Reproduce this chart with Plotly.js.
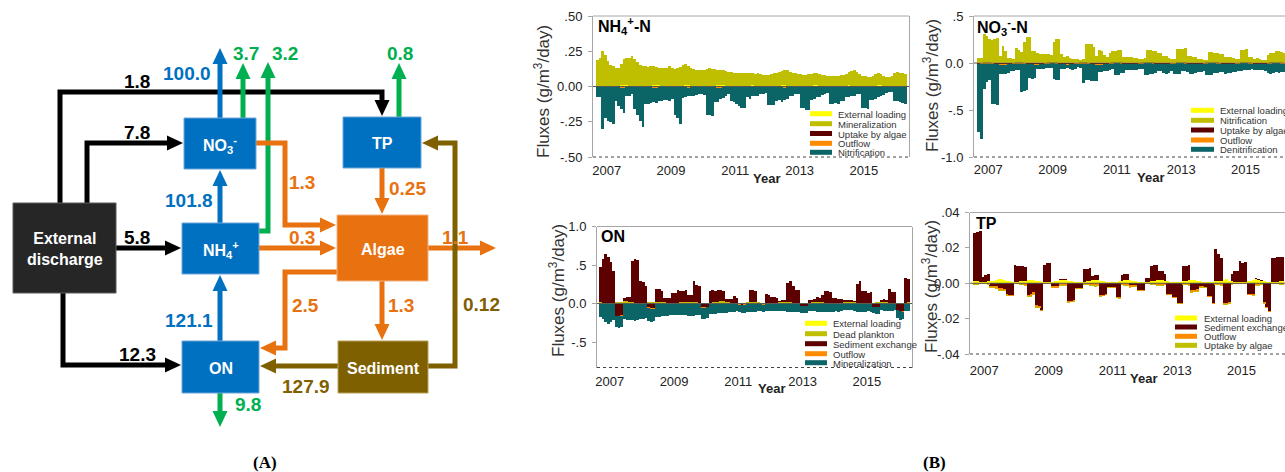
<!DOCTYPE html>
<html>
<head>
<meta charset="utf-8">
<script src="https://cdn.plot.ly/plotly-3.0.1.min.js"></script>
<style>
  html, body { margin: 0; padding: 0; background: #fff; }
  #chart { width: 1285px; height: 472px; }
</style>
</head>
<body>
<div id="chart"></div>
<script>
// ---------------- (A) pool-to-pool fluxes ----------------
const poolNames = ['External<br>discharge', 'NO<sub>3</sub><sup>-</sup>', 'NH<sub>4</sub><sup>+</sup>', 'ON', 'TP', 'Algae', 'Sediment'];
const fluxValues = [1.8, 7.8, 5.8, 12.3, 100.0, 101.8, 121.1, 3.7, 3.2, 0.8, 9.8, 1.3, 0.3, 0.25, 1.1, 2.5, 1.3, 127.9, 0.12];
const fluxDigits = [1, 1, 1, 1, 1, 1, 1, 1, 1, 1, 1, 1, 1, 2, 1, 1, 1, 1, 2];

// ---------------- (B) monthly fluxes, g/m3/day (Sep 2006 onward) ----------------
const yearTicks = ['2007', '2009', '2011', '2013', '2015'];

// NH4+-N
const nh4Loading = [
  .006,.004,.003,.003,.003,.004,.004,.005,.006,.008,.009,.008,
  .006,.004,.003,.003,.003,.003,.004,.005,.007,.009,.010,.008,
  .005,.004,.003,.002,.003,.003,.004,.005,.006,.008,.008,.007,
  .005,.004,.003,.003,.003,.004,.004,.005,.006,.009,.010,.008,
  .006,.004,.003,.003,.003,.003,.004,.004,.006,.007,.008,.007,
  .005,.004,.003,.002,.002,.003,.003,.004,.006,.008,.009,.007,
  .005,.004,.003,.003,.003,.003,.004,.005,.006,.008,.008,.007,
  .005,.003,.003,.002,.003,.003,.004,.004,.005,.007,.009,.007,
  .005,.004,.003,.003,.003,.003,.004,.005,.006,.008,.008,.006,
  .005,.004,.003,.003,.003,.003,.004,.005];
const nh4Mineralization = [
  .18,.20,.25,.22,.18,.15,.14,.125,.125,.155,
  .185,.195,.195,.21,.195,.17,.15,.14,.14,.135,
  .135,.135,.125,.125,.125,.125,.13,.14,.13,.12,
  .13,.135,.15,.15,.135,.125,.12,.115,.115,.115,
  .115,.12,.125,.12,.115,.11,.11,.11,.105,.10,
  .10,.095,.095,.095,.095,.09,.09,.09,.09,.085,
  .09,.085,.08,.08,.08,.085,.09,.095,.10,.105,
  .11,.11,.10,.095,.09,.085,.085,.08,.08,.085,
  .085,.09,.09,.085,.08,.08,.075,.075,.07,.07,
  .07,.075,.08,.085,.095,.105,.11,.10,.085,.075,
  .07,.065,.065,.07,.08,.09,.08,.07,.06,.065,
  .075,.09,.10,.095,.09,.085];
const nh4Uptake = [
  -.002,-.002,-.001,-.001,-.001,-.002,-.002,-.003,-.004,-.005,-.005,-.003,
  -.002,-.002,-.001,-.001,-.001,-.002,-.003,-.003,-.004,-.005,-.004,-.003,
  -.002,-.001,-.001,-.001,-.001,-.002,-.002,-.003,-.004,-.004,-.004,-.003,
  -.002,-.002,-.001,-.001,-.001,-.002,-.002,-.003,-.004,-.005,-.005,-.003,
  -.002,-.001,-.001,-.001,-.001,-.001,-.002,-.003,-.003,-.004,-.004,-.003,
  -.002,-.001,-.001,-.001,-.001,-.002,-.002,-.003,-.004,-.004,-.004,-.002,
  -.002,-.002,-.001,-.001,-.001,-.001,-.002,-.003,-.003,-.004,-.004,-.003,
  -.002,-.001,-.001,-.001,-.001,-.002,-.002,-.002,-.003,-.004,-.004,-.003,
  -.002,-.001,-.001,-.001,-.001,-.001,-.002,-.003,-.003,-.004,-.004,-.002,
  -.002,-.001,-.001,-.001,-.001,-.002,-.002,-.003];
const nh4Outflow = [
  -.003,-.002,-.002,-.002,-.002,-.002,-.002,-.003,-.003,-.004,-.004,-.003,
  -.003,-.002,-.002,-.001,-.002,-.002,-.002,-.003,-.003,-.004,-.004,-.003,
  -.002,-.002,-.002,-.001,-.001,-.002,-.002,-.002,-.003,-.003,-.004,-.003,
  -.002,-.002,-.002,-.002,-.002,-.002,-.002,-.003,-.003,-.004,-.004,-.003,
  -.002,-.002,-.001,-.001,-.001,-.002,-.002,-.002,-.003,-.003,-.003,-.002,
  -.002,-.002,-.001,-.001,-.001,-.001,-.002,-.002,-.003,-.003,-.004,-.002,
  -.002,-.002,-.001,-.001,-.001,-.002,-.002,-.002,-.003,-.003,-.003,-.002,
  -.002,-.001,-.001,-.001,-.001,-.001,-.002,-.002,-.002,-.003,-.003,-.002,
  -.002,-.002,-.001,-.001,-.001,-.001,-.002,-.002,-.003,-.003,-.003,-.002,
  -.002,-.001,-.001,-.001,-.001,-.001,-.002,-.002];
const nh4Nitrification = [
  -.07,-.07,-.30,-.22,-.24,-.25,-.265,-.10,-.13,-.15,
  -.18,-.06,-.06,-.05,-.16,-.20,-.24,-.28,-.12,-.12,
  -.11,-.10,-.11,-.10,-.10,-.09,-.09,-.10,-.09,-.20,
  -.22,-.26,-.075,-.07,-.06,-.06,-.06,-.055,-.05,-.05,
  -.06,-.195,-.20,-.205,-.10,-.10,-.08,-.075,-.06,-.05,
  -.10,-.11,-.12,-.135,-.15,-.15,-.07,-.08,-.06,-.06,
  -.06,-.05,-.05,-.045,-.13,-.13,-.13,-.10,-.09,-.10,
  -.09,-.085,-.06,-.065,-.05,-.05,-.15,-.15,-.16,-.16,
  -.09,-.08,-.07,-.07,-.055,-.05,-.045,-.12,-.12,-.115,
  -.12,-.10,-.10,-.07,-.065,-.065,-.06,-.05,-.05,-.15,
  -.15,-.155,-.09,-.09,-.085,-.07,-.06,-.055,-.04,-.04,
  -.035,-.10,-.10,-.11,-.115,-.12];

// NO3--N
const no3Loading = [
  .008,.006,.005,.005,.005,.006,.007,.008,.010,.012,.012,.010,
  .008,.006,.005,.004,.005,.006,.007,.008,.010,.011,.012,.009,
  .007,.006,.005,.004,.004,.005,.006,.008,.009,.011,.011,.009,
  .007,.006,.005,.005,.005,.006,.007,.008,.010,.012,.013,.010,
  .008,.006,.005,.004,.004,.005,.006,.007,.009,.010,.011,.009,
  .007,.005,.004,.004,.004,.005,.006,.007,.008,.010,.010,.008,
  .007,.006,.005,.004,.004,.005,.006,.007,.009,.010,.011,.009,
  .007,.005,.004,.004,.004,.005,.006,.007,.008,.009,.010,.008,
  .007,.006,.005,.004,.004,.005,.006,.007,.008,.010,.010,.008,
  .007,.005,.004,.004,.004,.005,.006,.007];
const no3Nitrification = [
  .05,.05,.30,.28,.25,.24,.25,.26,.06,.17,
  .12,.04,.04,.04,.15,.13,.11,.22,.27,.27,
  .12,.12,.09,.09,.09,.085,.09,.085,.22,.25,
  .25,.09,.06,.06,.04,.035,.035,.035,.03,.04,
  .20,.20,.19,.16,.06,.13,.12,.08,.06,.10,
  .12,.12,.13,.13,.06,.06,.05,.05,.045,.04,
  .04,.04,.05,.13,.13,.12,.12,.10,.10,.06,
  .06,.04,.04,.04,.14,.14,.15,.15,.07,.07,
  .05,.05,.03,.03,.03,.03,.11,.11,.10,.10,
  .09,.09,.06,.06,.05,.04,.04,.04,.13,.13,
  .14,.06,.06,.04,.04,.03,.02,.02,.08,.10,
  .10,.12,.12,.11,.10,.09];
const no3Uptake = [
  -.006,-.005,-.003,-.003,-.003,-.005,-.007,-.009,-.011,-.012,-.011,-.008,
  -.006,-.004,-.003,-.003,-.003,-.005,-.007,-.009,-.010,-.012,-.010,-.008,
  -.006,-.004,-.003,-.002,-.003,-.004,-.006,-.008,-.010,-.011,-.010,-.007,
  -.005,-.004,-.003,-.003,-.003,-.005,-.007,-.009,-.011,-.012,-.011,-.008,
  -.006,-.004,-.003,-.002,-.003,-.004,-.006,-.008,-.009,-.010,-.009,-.007,
  -.005,-.004,-.003,-.002,-.002,-.004,-.006,-.007,-.009,-.010,-.009,-.007,
  -.005,-.004,-.003,-.002,-.003,-.004,-.006,-.008,-.009,-.010,-.009,-.007,
  -.005,-.004,-.003,-.002,-.002,-.004,-.005,-.007,-.008,-.009,-.009,-.006,
  -.005,-.004,-.003,-.002,-.002,-.004,-.005,-.007,-.008,-.010,-.009,-.006,
  -.005,-.004,-.003,-.002,-.002,-.004,-.005,-.007];
const no3Outflow = [
  -.004,-.004,-.003,-.003,-.003,-.003,-.004,-.004,-.005,-.006,-.006,-.005,
  -.004,-.003,-.003,-.003,-.003,-.003,-.004,-.004,-.005,-.006,-.006,-.005,
  -.004,-.003,-.003,-.002,-.002,-.003,-.003,-.004,-.005,-.005,-.005,-.004,
  -.004,-.003,-.003,-.003,-.003,-.003,-.004,-.004,-.005,-.006,-.006,-.005,
  -.004,-.003,-.003,-.002,-.002,-.003,-.003,-.004,-.004,-.005,-.005,-.004,
  -.003,-.003,-.002,-.002,-.002,-.003,-.003,-.004,-.004,-.005,-.005,-.004,
  -.003,-.003,-.002,-.002,-.002,-.003,-.003,-.004,-.004,-.005,-.005,-.004,
  -.003,-.003,-.002,-.002,-.002,-.003,-.003,-.003,-.004,-.005,-.005,-.004,
  -.003,-.003,-.002,-.002,-.002,-.003,-.003,-.004,-.004,-.005,-.005,-.004,
  -.003,-.003,-.002,-.002,-.002,-.003,-.003,-.003];
const no3Denitrification = [
  -.72,-.80,-.27,-.20,-.17,-.43,-.43,-.43,-.10,-.10,
  -.10,-.09,-.08,-.08,-.07,-.07,-.30,-.29,-.28,-.15,
  -.15,-.14,-.05,-.05,-.05,-.05,-.05,-.05,-.17,-.17,
  -.17,-.05,-.05,-.04,-.05,-.06,-.05,-.04,-.05,-.21,
  -.18,-.17,-.18,-.18,-.18,-.08,-.08,-.07,-.07,-.07,
  -.06,-.12,-.12,-.10,-.10,-.06,-.06,-.06,-.06,-.06,
  -.06,-.06,-.12,-.12,-.11,-.11,-.10,-.07,-.07,-.09,
  -.10,-.10,-.08,-.11,-.11,-.11,-.08,-.08,-.09,-.10,
  -.10,-.09,-.08,-.08,-.08,-.12,-.12,-.12,-.10,-.10,
  -.09,-.09,-.10,-.09,-.09,-.09,-.09,-.08,-.08,-.07,
  -.07,-.07,-.06,-.06,-.06,-.06,-.06,-.07,-.10,-.11,
  -.10,-.09,-.10,-.09,-.09,-.09];

// ON
const onLoading = [
  .006,.005,.004,.004,.004,.005,.006,.007,.008,.010,.010,.008,
  .006,.005,.004,.003,.004,.005,.006,.007,.008,.009,.010,.007,
  .006,.004,.004,.003,.003,.004,.005,.006,.008,.009,.009,.007,
  .006,.005,.004,.004,.004,.005,.006,.007,.009,.010,.011,.008,
  .006,.005,.004,.003,.003,.004,.005,.006,.007,.009,.009,.007,
  .005,.004,.003,.003,.003,.004,.005,.006,.007,.008,.009,.007,
  .005,.004,.004,.003,.003,.004,.005,.006,.007,.009,.009,.007,
  .005,.004,.003,.003,.003,.004,.005,.006,.007,.008,.008,.006,
  .005,.004,.004,.003,.003,.004,.005,.006,.007,.008,.009,.007,
  .005,.004,.003,.003,.003,.004,.005,.006];
const onDeadPlankton = [
  .010,.008,.006,.005,.005,.007,.010,.013,.016,.018,.017,.013,
  .010,.008,.006,.005,.005,.007,.009,.012,.015,.017,.016,.012,
  .009,.007,.005,.004,.005,.006,.009,.011,.014,.016,.015,.011,
  .009,.007,.005,.005,.005,.007,.009,.012,.015,.017,.016,.012,
  .009,.007,.005,.004,.004,.006,.008,.011,.013,.015,.014,.011,
  .008,.006,.005,.004,.004,.006,.008,.010,.013,.014,.014,.010,
  .008,.007,.005,.004,.004,.006,.008,.011,.013,.015,.014,.010,
  .008,.006,.005,.004,.004,.005,.007,.010,.012,.014,.013,.010,
  .008,.006,.005,.004,.004,.006,.008,.010,.012,.014,.014,.010,
  .008,.006,.005,.004,.004,.005,.007,.010];
const onSediment = [
  .46,.56,.63,.60,.53,.41,-.16,-.16,-.15,.05,
  .06,.06,.53,.56,.56,.29,.27,.22,-.05,-.06,
  -.06,.16,.16,.15,.06,.06,.06,.13,.13,.17,
  .15,.15,.15,.09,.09,.27,.23,.21,-.05,-.05,
  -.04,.155,.155,.15,.15,.15,.135,.04,.04,.05,
  .09,.06,-.01,-.02,-.01,0,.155,.15,.14,0,
  0,-.01,.11,.11,.08,.08,.055,.02,.02,.02,
  .24,.27,.22,.17,.17,-.03,-.03,-.03,.035,.035,
  .035,.055,.055,.09,.155,.155,.14,.06,.06,.045,
  .045,.025,.025,.02,.02,.02,.24,.28,.155,.155,
  .135,.135,-.04,-.04,-.04,.03,.035,.035,.17,.14,
  .14,-.08,-.10,-.10,.32,.30];
const onOutflow = [
  -.006,-.005,-.004,-.004,-.004,-.005,-.005,-.006,-.007,-.008,-.008,-.007,
  -.006,-.005,-.004,-.004,-.004,-.004,-.005,-.006,-.007,-.008,-.008,-.006,
  -.005,-.005,-.004,-.003,-.003,-.004,-.005,-.006,-.006,-.007,-.007,-.006,
  -.005,-.005,-.004,-.004,-.004,-.004,-.005,-.006,-.007,-.008,-.008,-.006,
  -.005,-.004,-.004,-.003,-.003,-.004,-.005,-.005,-.006,-.007,-.007,-.006,
  -.005,-.004,-.003,-.003,-.003,-.004,-.004,-.005,-.006,-.007,-.007,-.005,
  -.005,-.004,-.004,-.003,-.003,-.004,-.004,-.005,-.006,-.007,-.007,-.005,
  -.005,-.004,-.003,-.003,-.003,-.004,-.004,-.005,-.006,-.006,-.006,-.005,
  -.005,-.004,-.003,-.003,-.003,-.004,-.004,-.005,-.006,-.007,-.007,-.005,
  -.005,-.004,-.003,-.003,-.003,-.004,-.004,-.005];
const onMineralization = [
  -.17,-.20,-.23,-.26,-.24,-.21,-.14,-.15,-.15,-.19,
  -.20,-.20,-.21,-.22,-.21,-.19,-.19,-.18,-.17,-.17,
  -.16,-.17,-.17,-.16,-.16,-.16,-.15,-.15,-.15,-.15,
  -.15,-.14,-.14,-.15,-.15,-.15,-.14,-.14,-.14,-.14,
  -.14,-.13,-.13,-.13,-.12,-.12,-.12,-.12,-.11,-.11,
  -.11,-.10,-.10,-.10,-.11,-.10,-.10,-.10,-.10,-.09,
  -.09,-.09,-.10,-.10,-.09,-.09,-.09,-.09,-.09,-.09,
  -.10,-.11,-.11,-.11,-.10,-.095,-.095,-.09,-.09,-.09,
  -.095,-.10,-.10,-.10,-.11,-.11,-.11,-.11,-.10,-.10,
  -.09,-.08,-.08,-.08,-.08,-.09,-.10,-.11,-.11,-.11,
  -.10,-.10,-.085,-.085,-.085,-.08,-.085,-.09,-.09,-.09,
  -.08,-.10,-.11,-.10,-.095,-.09];

// TP
const tpLoading = [
  .0012,.0010,.0008,.0008,.0008,.0010,.0012,.0015,.0018,.0022,.0022,.0016,
  .0012,.0010,.0008,.0007,.0008,.0010,.0012,.0014,.0018,.0021,.0020,.0015,
  .0011,.0009,.0008,.0007,.0007,.0009,.0011,.0014,.0017,.0020,.0019,.0014,
  .0011,.0009,.0008,.0007,.0008,.0009,.0011,.0014,.0017,.0021,.0021,.0015,
  .0011,.0009,.0007,.0007,.0007,.0009,.0011,.0013,.0016,.0019,.0019,.0014,
  .0010,.0009,.0007,.0006,.0007,.0008,.0010,.0013,.0016,.0019,.0018,.0013,
  .0010,.0009,.0007,.0007,.0007,.0009,.0010,.0013,.0016,.0019,.0019,.0014,
  .0010,.0008,.0007,.0006,.0007,.0008,.0010,.0012,.0015,.0018,.0022,.0013,
  .0010,.0009,.0007,.0007,.0007,.0008,.0010,.0013,.0016,.0024,.0018,.0013,
  .0010,.0008,.0007,.0006,.0007,.0008,.0010,.0012];
const tpSediment = [
  .027,.028,.029,.0026,.004,.004,-.0013,-.0015,-.0015,-.0026,
  -.0028,-.003,-.006,-.0064,-.0066,.0096,.009,.009,.0085,.008,
  -.0064,-.006,-.005,-.0125,-.013,-.0149,.0096,.011,.011,-.0017,
  -.0018,-.0016,.0008,.0006,.0004,-.0098,-.0098,-.0096,-.0026,-.0025,
  -.0028,.0072,.0072,.0075,.0026,.0026,.0024,-.0064,-.0064,-.0062,
  -.0019,-.0019,-.002,-.0079,-.008,.0034,.0034,.0032,-.0011,-.0011,
  -.0012,-.0036,-.0036,-.004,.0025,.0022,.0087,.009,.009,.005,
  .005,.004,-.006,-.006,-.008,-.008,-.011,-.011,.0087,.0087,
  .0085,-.0036,-.0036,-.0035,-.0017,-.0017,-.0019,-.0074,-.0074,-.011,
  .0185,.0153,.0125,-.011,-.011,-.0105,.004,.006,.006,.012,
  .011,.011,-.0058,-.0058,-.0058,.0008,.0008,.0006,-.0108,-.0134,
  -.0158,.0134,.0134,.0138,.0138,.0138];
const tpOutflow = [
  -.0007,-.0006,-.0005,-.0005,-.0005,-.0006,-.0007,-.0008,-.0010,-.0012,-.0012,-.0009,
  -.0007,-.0006,-.0005,-.0004,-.0005,-.0006,-.0007,-.0008,-.0010,-.0012,-.0011,-.0009,
  -.0007,-.0006,-.0005,-.0004,-.0004,-.0005,-.0006,-.0008,-.0009,-.0011,-.0011,-.0008,
  -.0007,-.0006,-.0005,-.0004,-.0005,-.0006,-.0007,-.0008,-.0010,-.0012,-.0012,-.0009,
  -.0006,-.0005,-.0004,-.0004,-.0004,-.0005,-.0006,-.0007,-.0009,-.0010,-.0010,-.0008,
  -.0006,-.0005,-.0004,-.0004,-.0004,-.0005,-.0006,-.0007,-.0009,-.0010,-.0010,-.0008,
  -.0006,-.0005,-.0004,-.0004,-.0004,-.0005,-.0006,-.0007,-.0009,-.0011,-.0010,-.0008,
  -.0006,-.0005,-.0004,-.0004,-.0004,-.0005,-.0006,-.0007,-.0008,-.0010,-.0010,-.0007,
  -.0006,-.0005,-.0004,-.0004,-.0004,-.0005,-.0006,-.0007,-.0009,-.0010,-.0010,-.0007,
  -.0006,-.0005,-.0004,-.0004,-.0004,-.0005,-.0006,-.0007];
const tpUptake = [
  -.0003,-.0002,-.0002,-.0002,-.0002,-.0003,-.0004,-.0005,-.0006,-.0007,-.0006,-.0005,
  -.0003,-.0002,-.0002,-.0001,-.0002,-.0003,-.0004,-.0005,-.0006,-.0007,-.0006,-.0004,
  -.0003,-.0002,-.0002,-.0001,-.0001,-.0002,-.0003,-.0004,-.0005,-.0006,-.0006,-.0004,
  -.0003,-.0002,-.0002,-.0001,-.0002,-.0003,-.0004,-.0005,-.0006,-.0007,-.0006,-.0004,
  -.0003,-.0002,-.0001,-.0001,-.0001,-.0002,-.0003,-.0004,-.0005,-.0006,-.0005,-.0004,
  -.0003,-.0002,-.0001,-.0001,-.0001,-.0002,-.0003,-.0004,-.0005,-.0006,-.0005,-.0004,
  -.0003,-.0002,-.0001,-.0001,-.0001,-.0002,-.0003,-.0004,-.0005,-.0006,-.0005,-.0004,
  -.0002,-.0002,-.0001,-.0001,-.0001,-.0002,-.0003,-.0004,-.0005,-.0005,-.0005,-.0003,
  -.0002,-.0002,-.0001,-.0001,-.0001,-.0002,-.0003,-.0004,-.0005,-.0006,-.0005,-.0003,
  -.0002,-.0002,-.0001,-.0001,-.0001,-.0002,-.0003,-.0004];

// ---------------- styling ----------------
const INK = { black: '#000000', blue: '#0070C0', green: '#00B050', orange: '#E8720F', brown: '#7F6000' };
const POOL_FILL = ['#262626', '#0070C0', '#0070C0', '#0070C0', '#0070C0', '#E8720F', '#7F6000'];
const POOL_EDGE = ['#5a5a5a', '#6aa6d8', '#6aa6d8', '#6aa6d8', '#6aa6d8', '#f4b183', '#b8a058'];
const SER = { loading: '#FFFF00', olive: '#BFBF00', maroon: '#5C0000', orange: '#FF8A00', teal: '#0B6466' };
const FONT = 'Arial, "Liberation Sans", sans-serif';

// diagram geometry (figure pixel space: x right, y down)
const poolBoxes = [
  [13, 116, 203, 293],   // External discharge
  [184, 256, 118, 169],  // NO3-
  [182, 259, 223, 274],  // NH4+
  [182, 259, 341, 393],  // ON
  [343, 421, 117, 168],  // TP
  [337, 428, 215, 281],  // Algae
  [338, 428, 341, 393]   // Sediment
];
const fluxRoutes = [
  { pts: [[60,203],[60,92],[382,92],[382,116]], ink: 'black', lab: [137,81] },
  { pts: [[87,203],[87,143],[183,143]], ink: 'black', lab: [137,132] },
  { pts: [[116,248],[181,248]], ink: 'black', lab: [137,237] },
  { pts: [[63,293],[63,365],[181,365]], ink: 'black', lab: [137,354] },
  { pts: [[220,118],[220,48]], ink: 'blue', lab: [187,73] },
  { pts: [[220,223],[220,170]], ink: 'blue', lab: [189,200] },
  { pts: [[220,341],[220,275]], ink: 'blue', lab: [189,320] },
  { pts: [[243,118],[243,63]], ink: 'green', lab: [246,53] },
  { pts: [[259,231],[268,231],[268,62]], ink: 'green', lab: [285,53] },
  { pts: [[399,117],[399,63]], ink: 'green', lab: [400,53] },
  { pts: [[220,393],[220,427]], ink: 'green', lab: [248,404] },
  { pts: [[256,143],[285,143],[285,225],[336,225]], ink: 'orange', lab: [302,182] },
  { pts: [[259,248],[336,248]], ink: 'orange', lab: [302,237] },
  { pts: [[382,168],[382,214]], ink: 'orange', lab: [407,188] },
  { pts: [[428,248],[496,248]], ink: 'orange', lab: [455,237] },
  { pts: [[337,272],[285,272],[285,348],[260,348]], ink: 'orange', lab: [305,305] },
  { pts: [[382,281],[382,340]], ink: 'orange', lab: [401,305] },
  { pts: [[338,366],[260,366]], ink: 'brown', lab: [306,386] },
  { pts: [[428,366],[455,366],[455,143],[422,143]], ink: 'brown', lab: [481,304] }
];

const shapes = [];
const annotations = [];
const PX = { xref: 'x', yref: 'y' };

function arrow(pts, color) {
  const n = pts.length;
  const [xe, ye] = pts[n - 1], [xp, yp] = pts[n - 2];
  const L = Math.hypot(xe - xp, ye - yp);
  const ux = (xe - xp) / L, uy = (ye - yp) / L;
  const headLen = 16, half = 7.5;
  const bx = xe - ux * headLen, by = ye - uy * headLen;
  const line = pts.slice(0, n - 1).concat([[bx + ux, by + uy]]);
  shapes.push(Object.assign({ type: 'path', path: 'M' + line.map(p => p[0] + ',' + p[1]).join(' L'),
    line: { color, width: 5 } }, PX));
  shapes.push(Object.assign({ type: 'path',
    path: `M${xe},${ye} L${bx - uy * half},${by + ux * half} L${bx + uy * half},${by - ux * half} Z`,
    fillcolor: color, line: { width: 0 } }, PX));
}

fluxRoutes.forEach(r => arrow(r.pts, INK[r.ink]));
poolBoxes.forEach((b, i) => {
  shapes.push(Object.assign({ type: 'rect', x0: b[0], x1: b[1], y0: b[2], y1: b[3],
    fillcolor: POOL_FILL[i], line: { color: POOL_EDGE[i], width: 1 } }, PX));
  annotations.push(Object.assign({ x: (b[0] + b[1]) / 2, y: (b[2] + b[3]) / 2 + 1,
    text: '<b>' + poolNames[i] + '</b>', showarrow: false,
    font: { family: FONT, size: 16, color: '#ffffff' }, xanchor: 'center', yanchor: 'middle' }, PX));
});
fluxRoutes.forEach((r, i) => {
  annotations.push(Object.assign({ x: r.lab[0], y: r.lab[1],
    text: '<b>' + fluxValues[i].toFixed(fluxDigits[i]) + '</b>', showarrow: false,
    font: { family: FONT, size: 19, color: INK[r.ink] }, xanchor: 'center', yanchor: 'middle' }, PX));
});

// ---------------- (B) panels ----------------
const months = nh4Mineralization.map((_, i) => new Date(Date.UTC(2006, 8 + i, 16)).toISOString().slice(0, 10));
const MONTH_MS = 31 * 86400000;

const panels = [
  { id: 2, title: 'NH<sub>4</sub><sup>+</sup>-N', tpos: [596, 26],
    xdom: [593, 909], ydom: [16, 157], xrange: ['2006-07-29', '2016-05-28'],
    yrange: [-0.5, 0.5], yvals: [0.5, 0.25, 0, -0.25, -0.5], ytext: ['.50', '.25', '0.00', '-.25', '-.50'],
    ytitle: [542, 92], year: [766, 178], mirror: true, xstand: 4,
    legend: { sw: [810, 832], tx: 836, rows: [113.7, 123.7, 133.5, 143.3, 152.3] },
    series: [['External loading', nh4Loading, SER.loading], ['Mineralization', nh4Mineralization, SER.olive],
             ['Uptake by algae', nh4Uptake, SER.maroon], ['Outflow', nh4Outflow, SER.orange],
             ['Nitrification', nh4Nitrification, SER.teal]] },
  { id: 3, title: 'NO<sub>3</sub><sup>-</sup>-N', tpos: [975, 27],
    xdom: [974, 1285], ydom: [16, 157], xrange: ['2006-07-23', '2016-03-25'],
    yrange: [-1.0, 0.5], yvals: [0.5, 0, -0.5, -1.0], ytext: ['.5', '0.0', '-.5', '-1.0'],
    ytitle: [931, 86], year: [1150, 177], mirror: false, xstand: 3,
    legend: { sw: [1191, 1214], tx: 1218, rows: [110.3, 120.3, 130, 140, 149.3] },
    series: [['External loading', no3Loading, SER.loading], ['Nitrification', no3Nitrification, SER.olive],
             ['Uptake by algae', no3Uptake, SER.maroon], ['Outflow', no3Outflow, SER.orange],
             ['Denitrification', no3Denitrification, SER.teal]] },
  { id: 4, title: 'ON', tpos: [599, 236],
    xdom: [597, 912], ydom: [226.5, 367.5], xrange: ['2006-08-09', '2016-05-28'],
    yrange: [-0.83, 1.0], yvals: [1.0, 0.5, 0, -0.5], ytext: ['1.0', '.5', '0.0', '-.5'],
    ytitle: [557, 291], year: [771, 388], mirror: true, xstand: 4,
    legend: { sw: [805, 827], tx: 831, rows: [323.3, 333.7, 343.7, 353.7, 362.7] },
    series: [['External loading', onLoading, SER.loading], ['Dead plankton', onDeadPlankton, SER.olive],
             ['Sediment exchange', onSediment, SER.maroon], ['Outflow', onOutflow, SER.orange],
             ['Mineralization', onMineralization, SER.teal]] },
  { id: 5, title: 'TP', tpos: [974, 223],
    xdom: [970, 1285], ydom: [212.5, 354], xrange: ['2006-07-23', '2016-05-10'],
    yrange: [-0.04, 0.04], yvals: [0.04, 0.02, 0, -0.02, -0.04], ytext: ['.04', '.02', '0.00', '-.02', '-.04'],
    ytitle: [930, 287], year: [1143, 378], mirror: false, xstand: 7,
    legend: { sw: [1175, 1197], tx: 1201.5, rows: [318, 327, 336.3, 345.3] },
    series: [['External loading', tpLoading, SER.loading], ['Sediment exchange', tpSediment, SER.maroon],
             ['Outflow', tpOutflow, SER.orange], ['Uptake by algae', tpUptake, SER.olive]] }
];

const W = 1285, H = 472;
const traces = [{ type: 'scatter', x: [], y: [], xaxis: 'x', yaxis: 'y', showlegend: false, hoverinfo: 'skip' }];
const layout = {
  width: W, height: H, margin: { l: 0, r: 0, t: 0, b: 0, pad: 0 },
  paper_bgcolor: '#ffffff', plot_bgcolor: 'rgba(0,0,0,0)',
  showlegend: false, barmode: 'relative', bargap: 0,
  font: { family: FONT, color: '#222' },
  xaxis: { domain: [0, 1], range: [0, W], visible: false, fixedrange: true },
  yaxis: { domain: [0, 1], range: [H, 0], visible: false, fixedrange: true },
  shapes, annotations
};

panels.forEach(p => {
  const xa = 'x' + p.id, ya = 'y' + p.id;
  p.series.forEach(s => {
    traces.push({ type: 'bar', name: s[0], x: months, y: s[1], width: MONTH_MS,
      marker: { color: s[2], line: { width: 0 } }, xaxis: xa, yaxis: ya,
      showlegend: false, hoverinfo: 'skip' });
  });
  layout['xaxis' + p.id] = {
    domain: [p.xdom[0] / W, p.xdom[1] / W], anchor: ya, type: 'date', range: p.xrange,
    tickvals: yearTicks.map(y => y + '-01-01'), ticktext: yearTicks,
    ticks: '', showgrid: false, zeroline: false, showline: false, ticklabelstandoff: p.xstand,
    tickfont: { family: FONT, size: 13, color: '#222' }, fixedrange: true
  };
  layout['yaxis' + p.id] = {
    domain: [1 - p.ydom[1] / H, 1 - p.ydom[0] / H], anchor: xa, range: p.yrange,
    tickvals: p.yvals, ticktext: p.ytext, ticks: 'outside', ticklen: 4, tickcolor: '#a6a6a6',
    ticklabelstandoff: 3, showgrid: false, zeroline: false,
    showline: true, mirror: p.mirror, linecolor: '#a6a6a6', linewidth: 1,
    tickfont: { family: FONT, size: 13, color: '#222' }, fixedrange: true
  };
  // frame top, dotted base, zero line
  shapes.push({ type: 'line', xref: xa + ' domain', yref: ya + ' domain', x0: 0, x1: 1, y0: 1, y1: 1,
    line: { color: '#a6a6a6', width: 1 } });
  shapes.push({ type: 'line', xref: xa + ' domain', yref: ya + ' domain', x0: 0, x1: 1, y0: 0, y1: 0,
    line: { color: '#444', width: 1, dash: 'dot' } });
  shapes.push({ type: 'line', xref: xa + ' domain', yref: ya, x0: 0, x1: 1, y0: 0, y1: 0,
    line: { color: '#555', width: 1 }, layer: 'above' });
  // legend
  p.series.forEach((s, k) => {
    const yy = p.legend.rows[k];
    shapes.push(Object.assign({ type: 'rect', x0: p.legend.sw[0], x1: p.legend.sw[1], y0: yy - 2.5, y1: yy + 2.5,
      fillcolor: s[2], line: { width: 0 } }, PX));
    annotations.push(Object.assign({ x: p.legend.tx, y: yy + 0.5, text: s[0], showarrow: false,
      xanchor: 'left', yanchor: 'middle', font: { family: FONT, size: 9.5, color: '#333' } }, PX));
  });
  annotations.push(Object.assign({ x: p.tpos[0], y: p.tpos[1], text: '<b>' + p.title + '</b>', showarrow: false,
    xanchor: 'left', yanchor: 'middle', font: { family: FONT, size: 16, color: '#000' } }, PX));
  annotations.push(Object.assign({ x: p.ytitle[0], y: p.ytitle[1], text: 'Fluxes (g/m<sup>3</sup>/day)',
    showarrow: false, textangle: -90, xanchor: 'center', yanchor: 'middle',
    font: { family: FONT, size: 17, color: '#333' } }, PX));
  annotations.push(Object.assign({ x: p.year[0], y: p.year[1], text: '<b>Year</b>', showarrow: false,
    xanchor: 'center', yanchor: 'middle', font: { family: FONT, size: 13, color: '#222' } }, PX));
});

// sub-figure tags
[['(A)', 264.5], ['(B)', 934]].forEach(t => {
  annotations.push(Object.assign({ x: t[1], y: 462, text: '<b>' + t[0] + '</b>', showarrow: false,
    xanchor: 'center', yanchor: 'middle',
    font: { family: '"Times New Roman", "Liberation Serif", serif', size: 17, color: '#000' } }, PX));
});

Plotly.newPlot('chart', traces, layout, { displayModeBar: false, staticPlot: true });
</script>
</body>
</html>
